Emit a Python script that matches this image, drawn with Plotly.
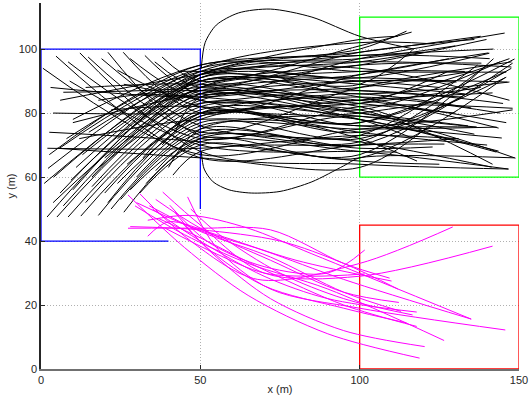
import plotly.graph_objects as go

# ---- region outlines ----
start_zone_x = [40, 0, 0, 50, 50]
start_zone_y = [40, 40, 100, 100, 50]
goal_green_x = [100, 150, 150, 100, 100]
goal_green_y = [60, 60, 110, 110, 60]
goal_red_x = [100, 150, 150, 100, 100]
goal_red_y = [0, 0, 45, 45, 0]

# ---- black trajectories: start, y at x=50, y at x=100, end ----
blk_sx = [0.6, 4.7, 8.5, 12.2, 14.8, 25.8, 32.6, 24, 35.7, 19, 28, 9, 38, 21, 3,
          3.8, 2, 7, 5, 6, 10, 12,
          1.0, 2.2, 2.6, 1.9, 5, 8.5, 12.5, 18, 3.8, 9.4, 6, 14, 16, 22, 11, 5.8, 20, 25,
          13, 8, 24, 28, 17, 30, 33, 27, 36, 20, 15, 32, 40, 38, 24, 41.4, 10, 29, 35, 42,
          44, 18, 2.6, 22, 31, 45, 14, 39, 26, 43,
          4, 7, 10, 16, 21, 26, 31]
blk_sy = [94, 97.8, 96, 98.8, 97.5, 99, 98, 93.4, 96, 97, 97, 90, 97.5, 99, 88,
          80, 69, 86.5, 69, 84, 77, 72,
          58, 62.7, 67, 47.5, 47.5, 47.5, 47.8, 48, 52, 59, 55, 52, 57, 50, 63, 69, 55, 53,
          67, 72, 58, 56, 62, 60, 58, 64, 62, 66, 74, 66, 63, 70, 72, 60.6, 78, 76, 78, 74,
          82, 84, 74, 81, 86, 88, 88, 84, 89, 93,
          60, 51, 56, 60, 52, 49, 55]
blk_gy = [67, 66, 72, 68, 74, 80, 86, 82, 88, 76, 84, 70, 90, 73, 85,
          80, 69, 88, 66, 92, 86, 78,
          92, 94, 95, 90, 86, 83, 80, 77, 88, 90, 91, 82, 85, 75, 92, 93, 80, 74,
          90, 94, 78, 72, 84, 76, 71, 79, 73, 86, 92, 81, 75, 80, 88, 68, 95, 89, 91, 85,
          83, 87, 71, 82, 85, 92, 89, 87, 84, 93,
          93, 88, 91, 87, 79, 72, 70]
blk_xy = [75, 70, 82, 64, 88, 92, 97, 78, 99, 71, 86, 68, 101, 79, 90,
          84, 73, 95, 63, 98, 90, 76,
          96, 102, 93, 85, 80, 76, 74, 72, 95, 89, 87, 78, 83, 70, 100, 91, 77, 69,
          86, 97, 81, 66, 88, 75, 68, 83, 71, 92, 94, 79, 80, 85, 93, 70, 98, 91, 96, 82,
          87, 78, 65, 74, 80, 103, 83, 84, 72, 89,
          99, 84, 90, 81, 77, 73, 67]
blk_ex = [136.7, 126.6, 148, 146.7, 147.7, 140.4, 145.5, 143.6, 136, 141.4, 135, 111.6, 116.3, 148.9, 146.4,
          141.7, 131, 138.2, 121.3, 140.8, 130.4, 144.6,
          147.6, 123.5, 146, 143.6, 136, 148, 146, 147.6, 139.8, 116.6, 132.3, 142.9, 127.3, 148, 114.7, 140.7, 148.6, 122.9,
          147, 130, 141.7, 145.5, 135, 143, 146.7, 138, 140, 128, 147, 136.7, 121, 144, 133, 131, 142, 127, 120, 113,
          145, 117, 125, 140, 134, 112, 130, 146, 118, 133,
          138, 147, 125, 144, 146, 137, 142]
blk_ey = [75.6, 70.3, 81.5, 62.5, 96, 98.8, 105, 68.1, 103, 63.1, 81.6, 67.8, 105.3, 65.9, 89.7,
          86.3, 72, 95.6, 75.6, 97, 89.7, 72.2,
          94.4, 101.6, 92.8, 75.3, 73.4, 81, 91.2, 94, 103, 99.7, 85, 67.8, 92.8, 95.6, 105.6, 98.7, 96.9, 69.4,
          89.7, 101, 64, 91, 93, 75.6, 62.5, 88, 95, 97, 84, 75.6, 83, 80, 93, 72, 100, 90, 99, 78,
          83, 72, 64, 70, 76, 104, 80, 77, 65, 86,
          104, 97, 88, 96, 93, 95, 97]

# two looping trajectories
loop_top_x = [50.3, 51.5, 55, 62, 72, 85, 100, 117]
loop_top_y = [94, 102, 107.5, 111.3, 112.5, 110, 104, 100]
loop_bot_x = [50.3, 51.2, 54, 59, 66, 75, 85, 95, 100, 148.6]
loop_bot_y = [68, 62.5, 58.5, 56, 55, 55.5, 58.5, 63.5, 66, 66]

# ---- magenta trajectories: five points each ----
mag_x = [
    [27.3, 45, 65, 90, 118.8],
    [31, 47, 68, 100, 129.2],
    [38.2, 50, 70, 100, 141.7],
    [46, 55, 72, 100, 145.7],
    [40.4, 52, 70, 90, 101.6],
    [27.3, 50, 72, 95, 109.4],
    [33.5, 40, 55, 80, 110],
    [33.5, 47, 65, 85, 135],
    [29.5, 45, 65, 90, 126.5],
    [35, 50, 70, 90, 117.9],
    [42, 52, 70, 95, 114.7],
    [37, 50, 70, 95, 117.9],
    [44, 55, 72, 95, 120.4],
    [30, 48, 70, 95, 135],
    [36, 50, 72, 95, 112.3],
    [47, 56, 75, 95, 116.6],
    [39, 55, 70, 85, 101.6],
    [28, 50, 75, 95, 112],
    [34, 50, 72, 95, 113],
]
mag_y = [
    [54.4, 38, 23, 11, 3.4],
    [54.8, 40, 28, 33, 44.4],
    [55.3, 45, 30, 29, 38.4],
    [53.8, 38, 25, 19, 12.2],
    [51.2, 40, 32, 30, 37.2],
    [44, 44, 43.5, 33, 28.4],
    [41.5, 46, 42, 34, 27.5],
    [46.5, 48, 44, 36, 15.6],
    [51, 42, 33, 25, 8.9],
    [50, 40, 29, 22, 17.8],
    [49, 38, 26, 19, 14.4],
    [47, 41, 31, 20, 13.3],
    [46, 35, 22, 12, 7.0],
    [52, 44, 37, 28, 15.6],
    [53, 44, 34, 24, 20.8],
    [50, 42, 30, 22, 16.9],
    [44, 36, 30, 29, 29.7],
    [44.5, 43.5, 40, 33, 25],
    [51, 43, 35, 24, 18],
]

x_ticks = [0, 50, 100, 150]
y_ticks = [0, 20, 40, 60, 80, 100]

# ---- build traces ----
bx, by = [], []
for i in range(len(blk_sx)):
    bx += [blk_sx[i], 50, 100, blk_ex[i], None]
    by += [blk_sy[i], blk_gy[i], blk_xy[i], blk_ey[i], None]

lx = loop_top_x + [None] + loop_bot_x
ly = loop_top_y + [None] + loop_bot_y

mx, my = [], []
for xs, ys in zip(mag_x, mag_y):
    mx += xs + [None]
    my += ys + [None]

fig = go.Figure()
fig.add_trace(go.Scatter(x=start_zone_x, y=start_zone_y, mode="lines",
                         line=dict(color="#0000ff", width=1.3), hoverinfo="skip"))
fig.add_trace(go.Scatter(x=goal_green_x, y=goal_green_y, mode="lines",
                         line=dict(color="#00ff00", width=1.3), hoverinfo="skip"))
fig.add_trace(go.Scatter(x=goal_red_x, y=goal_red_y, mode="lines",
                         line=dict(color="#ff0000", width=1.3), hoverinfo="skip"))
fig.add_trace(go.Scatter(x=bx, y=by, mode="lines",
                         line=dict(color="#000000", width=1, shape="spline", smoothing=0.9),
                         hoverinfo="skip"))
fig.add_trace(go.Scatter(x=lx, y=ly, mode="lines",
                         line=dict(color="#000000", width=1, shape="spline", smoothing=0.8),
                         hoverinfo="skip"))
fig.add_trace(go.Scatter(x=mx, y=my, mode="lines",
                         line=dict(color="#ff00ff", width=1, shape="spline", smoothing=0.9),
                         hoverinfo="skip"))

font = dict(family="Liberation Sans, Arial, sans-serif", size=11, color="#262626")
fig.update_layout(
    width=530, height=401,
    margin=dict(l=41, r=11, t=3, b=32),
    paper_bgcolor="white", plot_bgcolor="white",
    showlegend=False,
    font=font,
    xaxis=dict(range=[0, 150], tickvals=x_ticks, showgrid=True, gridcolor="#b0b0b0",
               griddash="1px,2px", gridwidth=1, zeroline=False, showline=True,
               linecolor="#707070", linewidth=2, ticks="inside", ticklen=4,
               tickcolor="#262626", automargin=False, ticklabeloverflow="allow",
               title=dict(text="x (m)", standoff=0, font=font)),
    yaxis=dict(range=[0, 114.4], tickvals=y_ticks, showgrid=True, gridcolor="#b0b0b0",
               griddash="1px,2px", gridwidth=1, zeroline=False, showline=True,
               linecolor="#262626", linewidth=1.5, ticks="inside", ticklen=4,
               tickcolor="#262626", automargin=False,
               title=dict(text="y (m)", standoff=1, font=font)),
)

fig.write_html("out.html", config={"displayModeBar": False},
               post_script="document.body.style.margin='0';")
